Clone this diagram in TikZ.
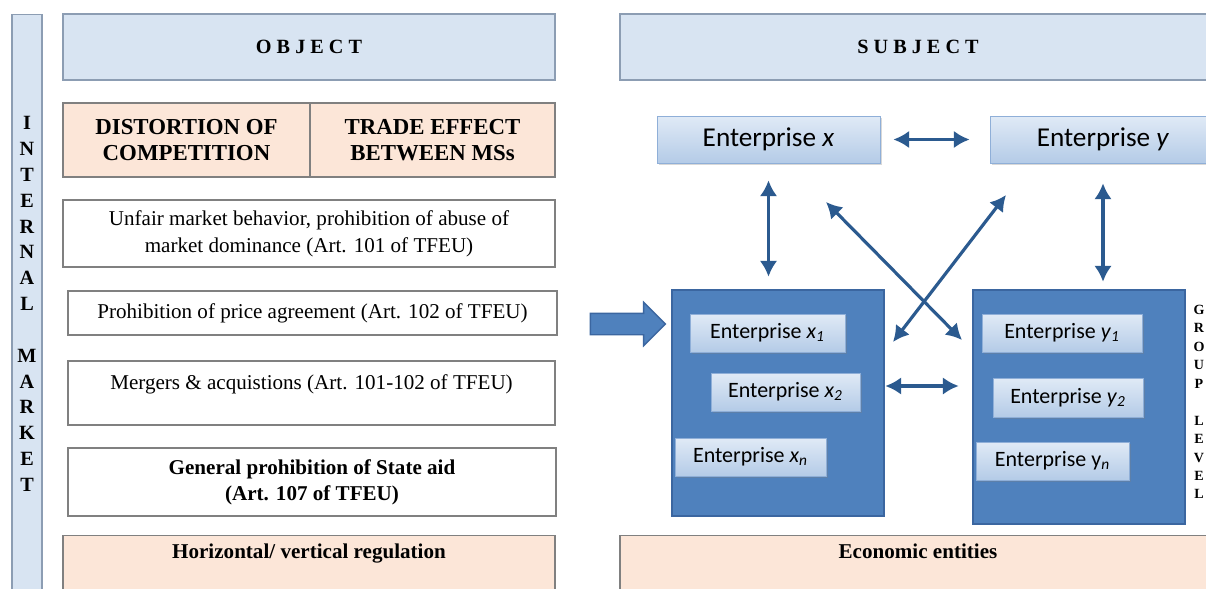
\documentclass[tikz,border=0pt]{standalone}
\usepackage{fontspec}
\setmainfont{Liberation Serif}
\newfontfamily\calfont{Carlito}
\usetikzlibrary{arrows.meta,shapes.arrows,shadows}
\definecolor{hdrblue}{HTML}{D8E4F2}
\definecolor{hdrline}{HTML}{8C9DB3}
\definecolor{peach}{HTML}{FCE6D8}
\definecolor{boxline}{HTML}{808080}
\definecolor{grpblue}{HTML}{4F81BD}
\definecolor{grpline}{HTML}{3B66A0}
\definecolor{entop}{HTML}{E0EAF6}
\definecolor{enbot}{HTML}{B4CBE7}
\definecolor{enline}{HTML}{8FAFD8}
\definecolor{arrblue}{HTML}{2B5A8F}

\begin{document}
\begin{tikzpicture}[x=0.02cm,y=-0.02cm,
  hdr/.style={draw=hdrline,fill=hdrblue,line width=0.8pt},
  law/.style={draw=boxline,fill=white,line width=0.8pt,align=center,font=\fontsize{12}{15.3}\selectfont},
  tag/.style={draw=boxline,fill=peach,line width=0.8pt,align=center,font=\bfseries\fontsize{13}{14.7}\selectfont},
  grp/.style={draw=grpline,fill=grpblue,line width=1.5pt},
  ent/.style={draw=enline,top color=entop,bottom color=enbot,font=\calfont\fontsize{12.5}{14}\selectfont,inner sep=0pt,
    drop shadow={opacity=0.3,shadow xshift=1pt,shadow yshift=-1.2pt}},
  link/.style={{Latex[length=9pt,width=10pt]}-{Latex[length=9pt,width=10pt]},draw=arrblue,line width=1.8pt}]
\useasboundingbox (0,0) rectangle (1206,588);
\clip (0,0) rectangle (1206,588);
\fill[white] (0,0) rectangle (1206,588);

% object side
\node[hdr,minimum width=0.6cm,minimum height=11.8cm,anchor=north] (bar) at (27,14) {};
\node[font=\bfseries\fontsize{11.5}{14.7}\selectfont,align=center] (imk) at (27,304) {I\\N\\T\\E\\R\\N\\A\\L\\[14.7pt]M\\A\\R\\K\\E\\T};
\node[hdr,minimum width=9.84cm,minimum height=1.32cm,font=\bfseries\fontsize{11.5}{14}\selectfont] (obj) at (309,47) {O B J E C T};
\node[tag,minimum width=4.94cm,minimum height=1.48cm] (dist) at (186.5,140) {DISTORTION OF\\COMPETITION};
\node[tag,minimum width=4.9cm,minimum height=1.48cm] (trade) at (432.5,140) {TRADE EFFECT\\BETWEEN MSs};
\node[law,minimum width=9.84cm,minimum height=1.34cm] (unfair) at (309,233.5) {Unfair market behavior, prohibition of abuse of\\market dominance (Art. 101 of TFEU)};
\node[law,minimum width=9.78cm,minimum height=0.88cm] (price) at (312.5,313) {Prohibition of price agreement (Art. 102 of TFEU)};
\node[law,minimum width=9.74cm,minimum height=1.28cm,text depth=0.42cm] (merge) at (311.5,393) {Mergers \& acquistions (Art. 101-102 of TFEU)};
\node[law,font=\bfseries\fontsize{12}{15}\selectfont,minimum width=9.76cm,minimum height=1.36cm] (aid) at (312,482) {General prohibition of State aid\\(Art. 107 of TFEU)};
\node[tag,font=\bfseries\fontsize{12}{15}\selectfont,minimum width=9.84cm,minimum height=1.3cm,anchor=north,text depth=0.7cm] (hreg) at (309,535) {Horizontal/ vertical regulation};

\node[single arrow,draw=grpline,fill=grpblue,line width=0.8pt,minimum height=1.5cm,minimum width=0.84cm,inner sep=0.2cm,single arrow head extend=0.22cm] (push) at (622.5,324) {};

% subject side
\node[hdr,minimum width=11.92cm,minimum height=1.32cm,font=\bfseries\fontsize{11.5}{14}\selectfont] (subj) at (918,47) {S U B J E C T};
\node[tag,font=\bfseries\fontsize{12}{15}\selectfont,minimum width=11.92cm,minimum height=1.3cm,anchor=north,text depth=0.7cm] (econ) at (918,535) {Economic entities};

\node[ent,font=\calfont\fontsize{15.5}{18}\selectfont,minimum width=4.46cm,minimum height=0.94cm] (ex) at (768.5,139.5) {Enterprise \textit{x}};
\node[ent,font=\calfont\fontsize{15.5}{18}\selectfont,minimum width=4.52cm,minimum height=0.94cm] (ey) at (1103,139.5) {Enterprise \textit{y}};

\node[grp,minimum width=4.24cm,minimum height=4.52cm] (gx) at (778,403) {};
\node[grp,minimum width=4.24cm,minimum height=4.68cm] (gy) at (1079,407) {};

\node[ent,minimum width=3.1cm,minimum height=0.76cm] (x1) at (767.5,333) {Enterprise \textit{x}\textsubscript{\textit{1}}};
\node[ent,minimum width=2.98cm,minimum height=0.76cm] (x2) at (785.5,392) {Enterprise \textit{x}\textsubscript{\textit{2}}};
\node[ent,minimum width=3.02cm,minimum height=0.76cm] (xn) at (750.5,457) {Enterprise \textit{x}\textsubscript{\textit{n}}};
\node[ent,minimum width=3.2cm,minimum height=0.76cm] (y1) at (1062,333) {Enterprise \textit{y}\textsubscript{\textit{1}}};
\node[ent,minimum width=3.0cm,minimum height=0.78cm] (y2) at (1068,397.5) {Enterprise \textit{y}\textsubscript{\textit{2}}};
\node[ent,minimum width=3.06cm,minimum height=0.76cm] (yn) at (1052.5,461) {Enterprise y\textsubscript{\textit{n}}};

\node[font=\bfseries\fontsize{8}{10.5}\selectfont,align=center] (glv) at (1199,402) {G\\R\\O\\U\\P\\[10.5pt]L\\E\\V\\E\\L};

% links
\coordinate (cx) at (826,202);
\coordinate (cy) at (1006,195);
\coordinate (gxin) at (893,342);
\coordinate (gyin) at (962,340);
\draw[link,shorten <=0.26cm,shorten >=0.4cm] (ex.east) -- (ey.west);
\draw[link,shorten <=0.34cm,shorten >=0.24cm] (ex.south) -- (ex.south |- gx.north);
\draw[link,shorten <=0.4cm,shorten >=0.14cm] (ey.south) -- (ey.south |- gy.north);
\draw[link] (cx) -- (gyin);
\draw[link] (cy) -- (gxin);
\draw[link,shorten >=0.26cm] ([yshift=0.34cm]gx.east) -- ([yshift=0.34cm]gx.east -| gy.west);
\end{tikzpicture}
\end{document}
